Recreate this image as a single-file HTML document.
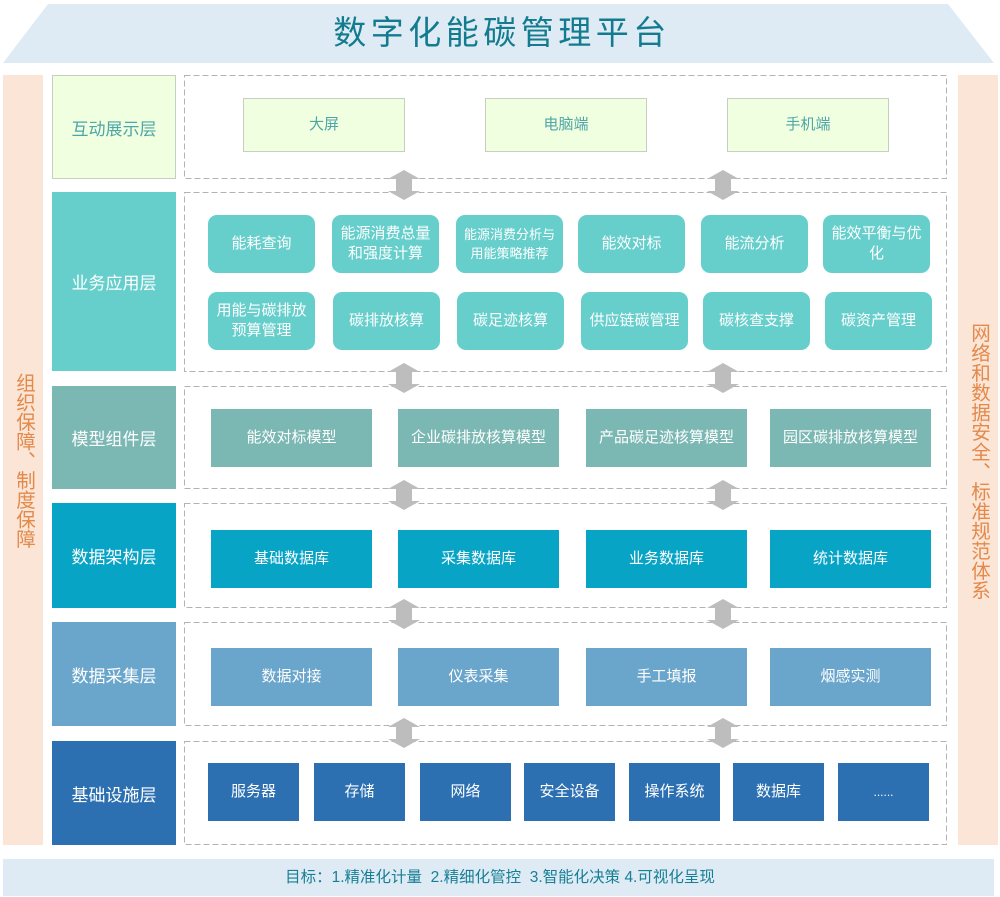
<!DOCTYPE html>
<html><head><meta charset="utf-8">
<style>
*{margin:0;padding:0;box-sizing:border-box}
html,body{width:1000px;height:897px;background:#fff;overflow:hidden}
body{position:relative;font-family:"Liberation Sans","Noto Sans CJK SC",sans-serif}
.a{position:absolute}
.c{position:absolute;display:flex;align-items:center;justify-content:center;text-align:center;color:#fff}
.lab{font-size:17px;left:52px;width:124px}
.bx{font-size:15px;line-height:20px}
.r{border-radius:9px;background:#66cfcc;width:107px;height:58px}
.m{width:161px;height:58px}
.i{width:91px;height:58px;background:#2c70b2}
.g{background:#efffdf;border:1px solid #c8cfc2;color:#4fa5a8}
.vt{position:absolute;font-size:19.5px;color:#e3894a;writing-mode:vertical-rl;text-orientation:upright;line-height:1}
</style></head><body>
<svg class="a" style="left:0;top:0" width="1000" height="897">
<polygon points="48,4 948,4 994,63 3,63" fill="#deebf4"/>
<rect x="3" y="75" width="40" height="770" fill="#fbe5d6"/>
<rect x="958" y="75" width="40" height="770" fill="#fbe5d6"/>
<rect x="3" y="859" width="991" height="37" fill="#deebf4"/>
<g fill="none" stroke="#b3b3b3" stroke-width="1" stroke-dasharray="6,3">
<rect x="184.5" y="75.5" width="762" height="103"/>
<rect x="184.5" y="192.5" width="762" height="179"/>
<rect x="184.5" y="386.5" width="762" height="102"/>
<rect x="184.5" y="503.5" width="762" height="104"/>
<rect x="184.5" y="622.5" width="762" height="103"/>
<rect x="184.5" y="741.5" width="762" height="103"/>
</g>
</svg>

<div class="a" style="left:0;top:10px;width:1000px;text-align:center;font-size:33px;letter-spacing:4.5px;color:#137b8f;line-height:46px;padding-left:4px">数字化能碳管理平台</div>

<div class="vt" style="left:13px;top:373px;">组织保障、制度保障</div>
<div class="vt" style="left:968px;top:323px;letter-spacing:0.3px">网络和数据安全、标准规范体系</div>

<!-- Layer 1 -->
<div class="c lab g" style="top:75px;height:104px">互动展示层</div>
<div class="c bx g" style="left:243px;top:98px;width:162px;height:54px">大屏</div>
<div class="c bx g" style="left:485px;top:98px;width:162px;height:54px">电脑端</div>
<div class="c bx g" style="left:727px;top:98px;width:162px;height:54px">手机端</div>

<!-- Layer 2 -->
<div class="c lab" style="top:192px;height:179px;background:#66cfcc">业务应用层</div>
<div class="c bx r" style="left:208px;top:215px">能耗查询</div>
<div class="c bx r" style="left:332px;top:215px">能源消费总量<br>和强度计算</div>
<div class="c bx r" style="left:456px;top:215px;font-size:13px;line-height:19px">能源消费分析与<br>用能策略推荐</div>
<div class="c bx r" style="left:578px;top:215px">能效对标</div>
<div class="c bx r" style="left:701px;top:215px">能流分析</div>
<div class="c bx r" style="left:823px;top:215px">能效平衡与优<br>化</div>
<div class="c bx r" style="left:208px;top:292px">用能与碳排放<br>预算管理</div>
<div class="c bx r" style="left:333px;top:292px">碳排放核算</div>
<div class="c bx r" style="left:457px;top:292px">碳足迹核算</div>
<div class="c bx r" style="left:581px;top:292px">供应链碳管理</div>
<div class="c bx r" style="left:703px;top:292px">碳核查支撑</div>
<div class="c bx r" style="left:825px;top:292px">碳资产管理</div>

<!-- Layer 3 -->
<div class="c lab" style="top:386px;height:103px;background:#7bb8b4">模型组件层</div>
<div class="c bx m" style="left:211px;top:409px;background:#7bb8b4">能效对标模型</div>
<div class="c bx m" style="left:398px;top:409px;background:#7bb8b4">企业碳排放核算模型</div>
<div class="c bx m" style="left:586px;top:409px;background:#7bb8b4">产品碳足迹核算模型</div>
<div class="c bx m" style="left:770px;top:409px;background:#7bb8b4">园区碳排放核算模型</div>

<!-- Layer 4 -->
<div class="c lab" style="top:503px;height:105px;background:#07a4c6">数据架构层</div>
<div class="c bx m" style="left:211px;top:530px;background:#07a4c6">基础数据库</div>
<div class="c bx m" style="left:398px;top:530px;background:#07a4c6">采集数据库</div>
<div class="c bx m" style="left:586px;top:530px;background:#07a4c6">业务数据库</div>
<div class="c bx m" style="left:770px;top:530px;background:#07a4c6">统计数据库</div>

<!-- Layer 5 -->
<div class="c lab" style="top:622px;height:104px;background:#6aa5cc">数据采集层</div>
<div class="c bx m" style="left:211px;top:648px;background:#6aa5cc">数据对接</div>
<div class="c bx m" style="left:398px;top:648px;background:#6aa5cc">仪表采集</div>
<div class="c bx m" style="left:586px;top:648px;background:#6aa5cc">手工填报</div>
<div class="c bx m" style="left:770px;top:648px;background:#6aa5cc">烟感实测</div>

<!-- Layer 6 -->
<div class="c lab" style="top:741px;height:104px;background:#2c70b2">基础设施层</div>
<div class="c bx i" style="left:208px;top:763px">服务器</div>
<div class="c bx i" style="left:314px;top:763px">存储</div>
<div class="c bx i" style="left:420px;top:763px">网络</div>
<div class="c bx i" style="left:524px;top:763px">安全设备</div>
<div class="c bx i" style="left:629px;top:763px">操作系统</div>
<div class="c bx i" style="left:733px;top:763px">数据库</div>
<div class="c bx i" style="left:838px;top:763px;font-size:12px">......</div>

<div class="a" style="left:0;top:866px;width:1000px;text-align:center;font-size:15.5px;color:#177f95;line-height:24px">目标：1.精准化计量&nbsp;&nbsp;2.精细化管控&nbsp;&nbsp;3.智能化决策 4.可视化呈现</div>

<svg class="a" style="left:0;top:0" width="1000" height="897">
<defs>
<path id="ar" d="M0,0 L16,9 L8,9 L8,21 L16,21 L0,30 L-16,21 L-8,21 L-8,9 L-16,9 Z" fill="#bdbdbd"/>
</defs>
<use href="#ar" x="404" y="170"/>
<use href="#ar" x="723" y="170"/>
<use href="#ar" x="404" y="363"/>
<use href="#ar" x="723" y="363"/>
<use href="#ar" x="404" y="480"/>
<use href="#ar" x="723" y="480"/>
<use href="#ar" x="404" y="599"/>
<use href="#ar" x="723" y="599"/>
<use href="#ar" x="404" y="718"/>
<use href="#ar" x="723" y="718"/>
</svg>
</body></html>
